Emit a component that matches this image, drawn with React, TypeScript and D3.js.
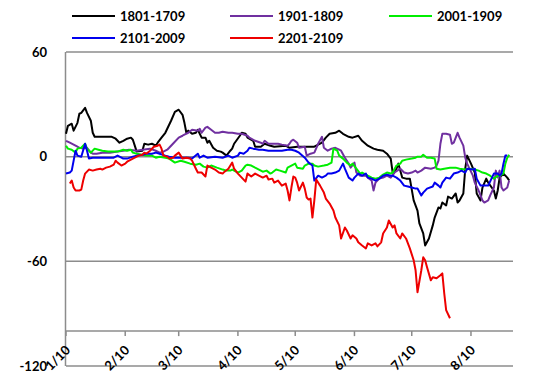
import React, { useEffect, useRef } from "react";
import * as d3 from "d3";

type Pt = [string, number];

const seriesNames = ["1801-1709", "1901-1809", "2001-1909", "2101-2009", "2201-2109"];
const seriesColors = ["#000000", "#7030a0", "#00ee00", "#0000ee", "#ee0000"];
const monthTicks = ["1/10", "2/10", "3/10", "4/10", "5/10", "6/10", "7/10", "8/10"];
const yTicks = [60, 0, -60, -120];

const s1801: Pt[] = [["1/10",13.1],["1/11",17.7],["1/13",18.9],["1/14",14.9],["1/16",19.4],["1/17",24.6],["1/18",25.1],["1/20",28.0],["1/21",25.1],["1/23",20.6],["1/24",13.7],["1/25",11.4],["2/3",11.4],["2/5",10.3],["2/7",8.0],["2/9",9.1],["2/11",10.3],["2/13",10.9],["2/14",9.7],["2/15",6.3],["2/16",2.9],["2/19",3.4],["2/20",7.4],["2/22",6.9],["2/24",7.4],["2/26",6.3],["2/27",8.0],["3/1",10.9],["3/3",13.7],["3/4",16.0],["3/6",20.6],["3/8",25.7],["3/10",26.9],["3/12",24.0],["3/13",19.4],["3/14",13.7],["3/15",14.9],["3/17",13.1],["3/19",13.7],["3/20",15.4],["3/22",10.9],["3/24",10.9],["3/25",8.0],["3/26",9.1],["3/28",5.1],["3/30",3.4],["4/1",2.9],["4/2",2.3],["4/4",0.6],["4/6",3.4],["4/7",4.6],["4/8",7.4],["4/11",12.0],["4/12",13.7],["4/14",13.1],["4/15",10.9],["4/18",9.1],["4/19",5.7],["4/22",5.7],["4/24",7.4],["4/27",6.3],["4/29",5.7],["5/5",6.3],["5/7",5.1],["5/11",5.7],["5/15",5.7],["5/20",5.7],["5/24",8.0],["5/26",10.9],["5/28",13.1],["5/31",13.7],["6/2",14.9],["6/4",13.1],["6/7",11.4],["6/9",10.9],["6/12",12.0],["6/14",9.1],["6/17",6.3],["6/20",4.6],["6/22",4.0],["6/25",3.4],["6/27",1.7],["6/29",-1.1],["6/30",-9.1],["7/2",-6.9],["7/3",-4.0],["7/5",-12.0],["7/7",-12.6],["7/9",-12.6],["7/11",-25.1],["7/13",-30.9],["7/14",-38.3],["7/16",-44.0],["7/17",-50.9],["7/19",-46.9],["7/21",-39.4],["7/22",-34.9],["7/24",-29.1],["7/25",-29.7],["7/26",-26.3],["7/28",-28.0],["7/29",-22.9],["7/31",-24.0],["8/2",-21.1],["8/3",-26.3],["8/4",-25.1],["8/6",-21.1],["8/7",-6.9],["8/8",0.6],["8/10",-4.0],["8/12",-9.1],["8/13",-21.1],["8/15",-25.1],["8/16",-17.7],["8/18",-12.6],["8/19",-14.9],["8/22",-19.4],["8/23",-24.0],["8/24",-19.4],["8/25",-12.0],["8/27",-9.7],["8/29",-12.0],["8/30",-13.7]];

const s1901: Pt[] = [["1/10",9.1],["1/12",8.0],["1/14",6.9],["1/16",5.7],["1/17",5.1],["1/19",4.6],["1/21",5.1],["1/23",2.3],["1/24",1.7],["1/26",1.7],["1/29",2.3],["2/2",2.3],["2/6",2.9],["2/9",3.4],["2/12",4.0],["2/16",3.4],["2/19",4.0],["2/23",4.6],["2/26",3.4],["2/28",2.3],["3/2",2.9],["3/4",4.0],["3/5",5.1],["3/7",7.4],["3/10",10.9],["3/12",12.0],["3/13",12.6],["3/15",13.7],["3/17",15.4],["3/20",14.9],["3/21",16.0],["3/22",13.7],["3/24",16.6],["3/25",17.1],["3/27",15.4],["3/29",13.7],["3/31",13.7],["4/2",14.3],["4/5",13.7],["4/7",13.7],["4/10",13.1],["4/12",13.1],["4/15",12.0],["4/16",10.9],["4/19",9.1],["4/22",8.0],["4/23",7.4],["4/24",9.1],["4/26",7.4],["4/28",7.4],["5/1",7.4],["5/3",6.9],["5/6",6.3],["5/7",7.4],["5/8",9.1],["5/9",9.7],["5/11",8.0],["5/12",5.1],["5/15",5.7],["5/16",0.6],["5/18",1.7],["5/20",2.3],["5/22",7.4],["5/24",11.4],["5/25",5.1],["5/27",3.4],["5/29",4.6],["5/31",5.1],["6/2",4.0],["6/3",3.4],["6/5",-0.6],["6/7",-4.0],["6/8",-6.3],["6/10",-3.4],["6/11",-9.1],["6/13",-10.9],["6/16",-10.9],["6/17",-12.0],["6/19",-13.7],["6/20",-19.4],["6/21",-14.9],["6/23",-12.6],["6/25",-12.0],["6/27",-10.9],["6/29",-12.0],["7/1",-9.1],["7/4",-6.9],["7/6",-9.1],["7/8",-9.7],["7/10",-9.1],["7/12",-8.0],["7/13",-9.1],["7/15",-8.0],["7/17",-6.3],["7/20",-6.9],["7/22",-6.3],["7/23",-5.1],["7/24",-2.3],["7/25",7.4],["7/26",13.1],["7/28",13.1],["7/30",12.6],["7/31",7.4],["8/1",8.0],["8/3",13.7],["8/4",10.9],["8/6",6.3],["8/7",-0.6],["8/8",-4.0],["8/11",-10.9],["8/12",-14.9],["8/14",-19.4],["8/16",-25.1],["8/17",-26.3],["8/19",-25.1],["8/20",-22.3],["8/22",-17.7],["8/23",-8.0],["8/24",-12.0],["8/25",-8.0],["8/26",-17.7],["8/27",-19.4],["8/29",-17.7],["8/30",-13.7]];

const s2001: Pt[] = [["1/10",6.3],["1/11",4.6],["1/13",4.0],["1/15",2.3],["1/16",4.6],["1/18",5.1],["1/20",7.4],["1/21",4.6],["1/23",2.3],["1/25",4.6],["1/27",4.0],["1/29",3.4],["2/1",2.9],["2/4",2.9],["2/6",2.9],["2/9",4.0],["2/11",3.4],["2/13",4.0],["2/14",2.3],["2/16",1.7],["2/19",1.1],["2/21",0.6],["2/24",0.6],["2/26",-0.6],["2/28",0],["3/3",-0.6],["3/5",-1.1],["3/8",-3.4],["3/11",-2.3],["3/13",-2.9],["3/16",-4.0],["3/19",-4.6],["3/21",-4.0],["3/23",-5.7],["3/25",-6.3],["3/27",-5.1],["3/30",-6.3],["4/2",-7.4],["4/4",-8.0],["4/6",-8.0],["4/7",-7.4],["4/10",-9.1],["4/12",-8.0],["4/14",-5.1],["4/15",-4.6],["4/17",-5.1],["4/19",-6.3],["4/21",-7.4],["4/23",-8.6],["4/25",-8.0],["4/27",-9.7],["4/28",-9.1],["4/30",-7.4],["5/2",-8.0],["5/5",-9.1],["5/6",-6.3],["5/8",-5.1],["5/10",-4.0],["5/11",-6.3],["5/14",-6.9],["5/15",-5.1],["5/17",-4.0],["5/19",-4.0],["5/20",-5.1],["5/22",-5.7],["5/25",-5.1],["5/27",-4.6],["5/29",-3.4],["5/30",4.6],["6/1",3.4],["6/2",0.6],["6/4",-1.1],["6/6",-3.4],["6/8",-5.1],["6/9",-4.0],["6/11",-6.9],["6/13",-9.7],["6/14",-9.1],["6/17",-10.9],["6/19",-12.0],["6/21",-12.6],["6/23",-12.0],["6/25",-10.3],["6/27",-9.1],["6/29",-9.7],["6/30",-9.1],["7/2",-5.1],["7/4",-4.0],["7/5",-2.3],["7/7",-1.7],["7/10",-1.1],["7/12",-0.6],["7/13",0],["7/15",0],["7/16",1.1],["7/18",-0.6],["7/20",-0.6],["7/22",-1.1],["7/23",-6.9],["7/25",-7.4],["7/27",-6.9],["7/30",-6.3],["8/2",-6.3],["8/4",-6.9],["8/7",-7.4],["8/9",-6.9],["8/12",-7.4],["8/14",-8.0],["8/16",-9.1],["8/18",-9.7],["8/20",-10.9],["8/22",-12.6],["8/24",-10.9],["8/25",-10.9],["8/27",-9.7],["8/28",-4.0],["8/29",-0.6],["8/30",1.1]];

const s2101: Pt[] = [["1/10",-9.7],["1/12",-9.1],["1/13",-8.0],["1/14",-2.3],["1/15",3.4],["1/16",0.6],["1/18",0],["1/20",7.4],["1/21",3.4],["1/22",-1.1],["1/24",-0.6],["1/28",-0.6],["1/31",-0.6],["2/4",-0.6],["2/6",0.6],["2/9",-1.1],["2/11",-1.1],["2/14",0],["2/16",0.6],["2/19",1.1],["2/21",1.7],["2/24",1.7],["2/26",2.3],["2/28",1.7],["3/3",0.6],["3/5",0],["3/8",-0.6],["3/12",-0.6],["3/15",-0.6],["3/17",-1.1],["3/20",1.7],["3/21",-0.6],["3/23",0.6],["3/25",-0.6],["3/29",0],["4/2",-0.6],["4/5",0.6],["4/7",-0.6],["4/10",0.6],["4/11",2.3],["4/13",1.7],["4/15",3.4],["4/16",5.1],["4/18",4.6],["4/21",4.0],["4/23",4.0],["4/26",3.4],["4/29",3.4],["5/3",3.4],["5/6",4.0],["5/8",4.0],["5/10",3.4],["5/12",2.3],["5/15",-0.6],["5/17",-3.4],["5/19",-5.1],["5/20",-13.7],["5/22",-10.9],["5/24",-12.0],["5/26",-10.9],["5/27",-9.7],["5/29",-9.7],["5/31",-9.1],["6/2",-8.0],["6/4",-4.0],["6/5",-6.9],["6/7",-12.0],["6/9",-13.7],["6/10",-12.0],["6/12",-9.7],["6/14",-10.9],["6/16",-9.7],["6/17",-12.0],["6/19",-12.6],["6/21",-13.7],["6/23",-12.6],["6/25",-10.9],["6/27",-10.3],["6/29",-10.9],["6/30",-10.9],["7/2",-12.0],["7/4",-13.7],["7/6",-16.6],["7/8",-17.1],["7/10",-17.7],["7/12",-18.3],["7/13",-18.3],["7/15",-22.3],["7/16",-20.6],["7/18",-18.3],["7/21",-17.1],["7/22",-14.9],["7/24",-16.6],["7/25",-17.7],["7/26",-14.9],["7/28",-12.0],["7/30",-12.6],["8/1",-9.7],["8/3",-9.1],["8/5",-8.0],["8/7",-9.1],["8/8",-6.9],["8/11",-7.4],["8/12",-6.9],["8/13",-12.6],["8/15",-16.6],["8/17",-16.6],["8/19",-16.6],["8/21",-12.0],["8/22",-9.7],["8/24",-9.7],["8/25",-10.9],["8/26",-9.7],["8/27",-4.0],["8/28",0.6],["8/29",0.6]];

const s2201: Pt[] = [["1/12",-15.4],["1/13",-13.7],["1/14",-17.7],["1/15",-19.4],["1/17",-19.4],["1/18",-18.9],["1/19",-13.7],["1/20",-9.7],["1/22",-7.4],["1/24",-8.0],["1/26",-7.4],["1/28",-6.9],["1/29",-7.4],["1/31",-6.3],["2/2",-5.7],["2/4",-4.6],["2/5",-2.3],["2/6",-3.4],["2/8",-5.1],["2/10",-4.0],["2/11",-2.9],["2/14",-1.1],["2/15",-0.6],["2/17",0.6],["2/19",1.1],["2/20",2.3],["2/21",1.7],["2/23",3.4],["2/25",5.7],["2/27",6.3],["2/28",6.9],["3/1",4.6],["3/2",0.6],["3/4",0],["3/5",-1.1],["3/7",-0.6],["3/8",0.6],["3/10",2.3],["3/11",0.6],["3/12",-1.1],["3/14",-0.6],["3/16",-1.1],["3/17",-2.3],["3/19",-6.9],["3/20",-9.1],["3/22",-9.1],["3/24",-11.4],["3/25",-5.1],["3/27",-6.3],["3/29",-7.4],["3/31",-9.1],["4/2",-9.7],["4/3",-8.6],["4/5",-6.9],["4/7",-3.4],["4/8",-6.9],["4/10",-9.7],["4/12",-12.0],["4/14",-14.3],["4/15",-9.7],["4/17",-11.4],["4/19",-9.7],["4/21",-10.9],["4/23",-12.0],["4/25",-10.9],["4/26",-13.1],["4/28",-12.6],["4/29",-14.9],["5/1",-13.7],["5/3",-16.6],["5/5",-15.4],["5/6",-19.4],["5/7",-25.1],["5/8",-17.7],["5/9",-11.4],["5/10",-12.0],["5/11",-14.9],["5/12",-19.4],["5/14",-14.9],["5/15",-18.3],["5/16",-23.4],["5/17",-24.6],["5/18",-24.0],["5/19",-34.9],["5/20",-25.1],["5/21",-13.1],["5/23",-16.6],["5/25",-20.6],["5/26",-24.0],["5/28",-26.9],["5/30",-30.9],["5/31",-34.9],["6/2",-39.4],["6/3",-46.9],["6/5",-40.6],["6/6",-42.3],["6/8",-46.9],["6/9",-45.1],["6/11",-46.9],["6/12",-49.1],["6/14",-50.9],["6/16",-52.6],["6/17",-49.7],["6/19",-50.9],["6/21",-49.7],["6/22",-51.4],["6/24",-49.1],["6/25",-44.0],["6/27",-40.6],["6/28",-36.6],["6/30",-40.6],["7/1",-39.4],["7/2",-44.0],["7/4",-46.9],["7/5",-44.0],["7/7",-46.9],["7/9",-52.6],["7/11",-59.4],["7/12",-65.1],["7/13",-77.7],["7/15",-65.1],["7/16",-57.7],["7/17",-59.4],["7/18",-63.4],["7/20",-70.9],["7/21",-69.1],["7/23",-69.7],["7/25",-68.0],["7/26",-66.9],["7/27",-78.3],["7/28",-88.0],["7/30",-92.6]];

const allSeries = [s1801, s1901, s2001, s2101, s2201];

const parseDay = (s: string) => d3.timeParse("%Y/%m/%d")("2017/" + s) as Date;

export default function App() {
  const ref = useRef<SVGSVGElement | null>(null);

  useEffect(() => {
    const width = 550,
      height = 390;
    const svg = d3.select(ref.current);
    svg.selectAll("*").remove();

    const x = d3
      .scaleTime()
      .domain([parseDay("1/10"), parseDay("9/1")])
      .range([66, 513]);
    const y = d3.scaleLinear().domain([-120, 60]).range([366, 52]);
    const font = "Lato, 'Liberation Sans', sans-serif";

    // horizontal grid lines
    svg
      .selectAll(".grid")
      .data(yTicks)
      .enter()
      .append("line")
      .attr("x1", x.range()[0])
      .attr("x2", x.range()[1])
      .attr("y1", (d) => y(d))
      .attr("y2", (d) => y(d))
      .attr("stroke", "#8c8c8c")
      .attr("stroke-width", 1.5);

    // y axis line
    svg
      .append("line")
      .attr("x1", 65.5)
      .attr("x2", 65.5)
      .attr("y1", y(60))
      .attr("y2", y(-120))
      .attr("stroke", "#8c8c8c")
      .attr("stroke-width", 1.5);

    svg
      .selectAll(".ylab")
      .data(yTicks)
      .enter()
      .append("text")
      .attr("x", 47)
      .attr("y", (d) => y(d) + 4.5)
      .attr("text-anchor", "end")
      .style("font", `bold 13px ${font}`)
      .text((d) => d);

    // category axis crosses at -100
    const axisY = y(-100);
    svg
      .append("line")
      .attr("x1", x.range()[0])
      .attr("x2", x.range()[1])
      .attr("y1", axisY)
      .attr("y2", axisY)
      .attr("stroke", "#8c8c8c")
      .attr("stroke-width", 1.5);

    svg
      .selectAll(".xtick")
      .data(monthTicks)
      .enter()
      .append("line")
      .attr("x1", (d) => x(parseDay(d)))
      .attr("x2", (d) => x(parseDay(d)))
      .attr("y1", axisY)
      .attr("y2", axisY + 5)
      .attr("stroke", "#8c8c8c")
      .attr("stroke-width", 1.5);

    svg
      .selectAll(".xlab")
      .data(monthTicks)
      .enter()
      .append("text")
      .attr("text-anchor", "end")
      .attr("transform", (d) => "translate(" + (x(parseDay(d)) + 5) + ",351) rotate(-45)")
      .style("font", `bold 13px ${font}`)
      .text((d) => d);

    // series
    const line = d3
      .line<Pt>()
      .x((d) => x(parseDay(d[0])))
      .y((d) => y(d[1]));

    allSeries.forEach((s, i) => {
      svg
        .append("path")
        .datum(s)
        .attr("d", line)
        .attr("fill", "none")
        .attr("stroke", seriesColors[i])
        .attr("stroke-width", 2)
        .attr("stroke-linejoin", "round");
    });

    // legend
    const legendPos = [
      [72, 16],
      [230, 16],
      [389, 16],
      [72, 38],
      [230, 38],
    ];
    const lg = svg
      .selectAll(".legend")
      .data(seriesNames)
      .enter()
      .append("g")
      .attr("transform", (d, i) => "translate(" + legendPos[i][0] + "," + legendPos[i][1] + ")");
    lg.append("line")
      .attr("x1", 0)
      .attr("x2", 43)
      .attr("stroke", (d, i) => seriesColors[i])
      .attr("stroke-width", 2);
    lg.append("text")
      .attr("x", 48)
      .attr("y", 4.5)
      .style("font", `bold 13px ${font}`)
      .text((d) => d);

    svg.attr("width", width).attr("height", height);
  }, []);

  return (
    <svg
      ref={ref}
      width={550}
      height={390}
      style={{ position: "absolute", left: 0, top: 0, background: "#fff" }}
    />
  );
}
